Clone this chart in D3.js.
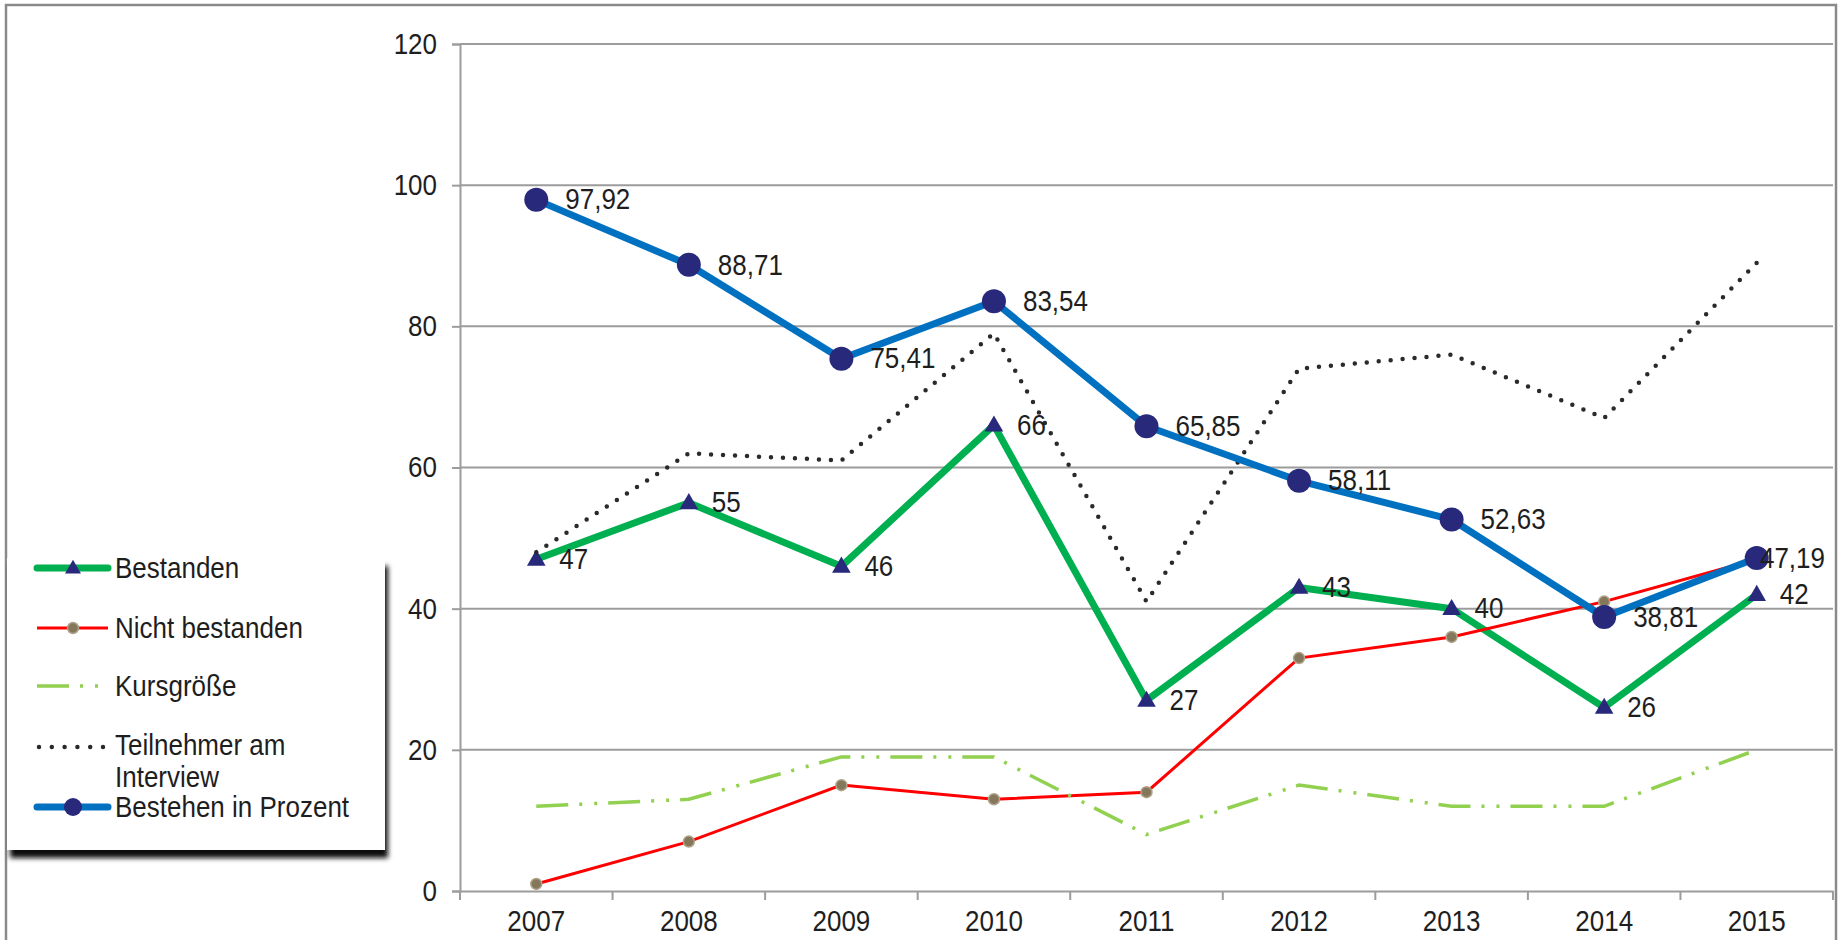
<!DOCTYPE html>
<html>
<head>
<meta charset="utf-8">
<script src="https://cdn.jsdelivr.net/npm/d3@7"></script>
<style>
  body { margin: 0; background: #fff; }
  svg { display: block; font-family: "Liberation Sans", Arial, sans-serif; }
  svg text { transform-box: fill-box; transform-origin: center; transform: scaleY(1.12); }
</style>
</head>
<body>
<div id="chart"></div>
<script>
// data
const years = ['2007', '2008', '2009', '2010', '2011', '2012', '2013', '2014', '2015'];
const bestanden = [47, 55, 46, 66, 27, 43, 40, 26, 42];
const nichtBestanden = [1, 7, 15, 13, 14, 33, 36, 41, 47];
const kursgroesse = [12, 13, 19, 19, 8, 15, 12, 12, 20];
const teilnehmer = [48, 62, 61, 79, 41, 74, 76, 67, 89];
const bestehenProzent = [97.92, 88.71, 75.41, 83.54, 65.85, 58.11, 52.63, 38.81, 47.19];
const yTicks = [0, 20, 40, 60, 80, 100, 120];
const legendNames = ['Bestanden', 'Nicht bestanden', 'Kursgröße', 'Teilnehmer am|Interview', 'Bestehen in Prozent'];

const W = 1841, H = 940;
const plot = {left: 460, right: 1833, top: 44, bottom: 891};

const svg = d3.select("#chart").append("svg")
    .attr("width", W)
    .attr("height", H);

// shadow filter for the legend
const defs = svg.append("defs");
defs.append("filter").attr("id", "blur")
    .attr("x", "-5%").attr("y", "-5%").attr("width", "110%").attr("height", "120%")
    .append("feGaussianBlur").attr("stdDeviation", 2.5);

// outer frame
svg.append("rect")
    .attr("x", 6).attr("y", 5)
    .attr("width", 1830).attr("height", 960)
    .attr("fill", "none")
    .attr("stroke", "#8a8a8a")
    .attr("stroke-width", 2.5);

const x = d3.scaleBand()
    .domain(years)
    .range([plot.left, plot.right]);

const y = d3.scaleLinear()
    .domain([0, 120])
    .range([plot.bottom, plot.top]);

const cx = (d, i) => x(years[i]) + x.bandwidth() / 2;

// gridlines
svg.append("g")
    .selectAll("line")
    .data(yTicks.filter(t => t > 0))
    .join("line")
    .attr("x1", plot.left).attr("x2", plot.right)
    .attr("y1", d => y(d)).attr("y2", d => y(d))
    .attr("stroke", "#9c9c9c")
    .attr("stroke-width", 2);

// y axis
const yAxis = svg.append("g")
    .attr("transform", `translate(${plot.left},0)`)
    .call(d3.axisLeft(y).tickValues(yTicks).tickSize(8).tickPadding(15));
yAxis.selectAll("line, path").attr("stroke", "#9c9c9c").attr("stroke-width", 2);
yAxis.selectAll("text").attr("font-size", 26).attr("fill", "#1e1e1e")
    .attr("font-family", "Liberation Sans, Arial, sans-serif");

// x axis: labels at band centres, ticks at band edges
const xAxis = svg.append("g")
    .attr("transform", `translate(0,${plot.bottom})`)
    .call(d3.axisBottom(x).tickSize(0).tickPadding(20));
xAxis.select("path").attr("stroke", "#9c9c9c").attr("stroke-width", 2);
xAxis.selectAll("text").attr("font-size", 26).attr("fill", "#1e1e1e")
    .attr("font-family", "Liberation Sans, Arial, sans-serif");
xAxis.selectAll(".edge")
    .data(years.map(d => x(d)).concat([plot.right]))
    .join("line")
    .attr("class", "edge")
    .attr("x1", d => d).attr("x2", d => d)
    .attr("y1", 0).attr("y2", 9)
    .attr("stroke", "#9c9c9c")
    .attr("stroke-width", 2);

const line = d3.line()
    .x(cx)
    .y(d => y(d));

// Bestanden
svg.append("path")
    .datum(bestanden)
    .attr("fill", "none")
    .attr("stroke", "#00b050")
    .attr("stroke-width", 7)
    .attr("stroke-linejoin", "round")
    .attr("d", line);
svg.append("g").selectAll("path")
    .data(bestanden)
    .join("path")
    .attr("transform", (d, i) => `translate(${cx(d, i)},${y(d) + 1})`)
    .attr("d", d3.symbol(d3.symbolTriangle, 150))
    .attr("fill", "#29297b");

// Nicht bestanden
svg.append("path")
    .datum(nichtBestanden)
    .attr("fill", "none")
    .attr("stroke", "#ff0000")
    .attr("stroke-width", 3)
    .attr("d", line);
svg.append("g").selectAll("circle")
    .data(nichtBestanden)
    .join("circle")
    .attr("cx", cx)
    .attr("cy", d => y(d))
    .attr("r", 5.5)
    .attr("fill", "#85775a")
    .attr("stroke", "#b0a58c")
    .attr("stroke-width", 1.5);

// Kursgröße
svg.append("path")
    .datum(kursgroesse)
    .attr("fill", "none")
    .attr("stroke", "#92d050")
    .attr("stroke-width", 3.5)
    .attr("stroke-dasharray", "32,11,3,12,3,11")
    .attr("d", line);

// Teilnehmer am Interview
svg.append("path")
    .datum(teilnehmer)
    .attr("fill", "none")
    .attr("stroke", "#2a2a2a")
    .attr("stroke-width", 4.5)
    .attr("stroke-linecap", "round")
    .attr("stroke-dasharray", "0,12")
    .attr("d", line);

// Bestehen in Prozent
svg.append("path")
    .datum(bestehenProzent)
    .attr("fill", "none")
    .attr("stroke", "#0070c0")
    .attr("stroke-width", 7)
    .attr("stroke-linejoin", "round")
    .attr("d", line);
svg.append("g").selectAll("circle")
    .data(bestehenProzent)
    .join("circle")
    .attr("cx", cx)
    .attr("cy", d => y(d))
    .attr("r", 12)
    .attr("fill", "#29297b");

// data labels
function addLabels(values, fmt, offset) {
    svg.append("g").selectAll("text")
        .data(values)
        .join("text")
        .attr("x", (d, i) => cx(d, i) + offset)
        .attr("y", d => y(d))
        .attr("dy", "0.33em")
        .attr("font-size", 26)
        .attr("fill", "#1e1e1e")
        .text(fmt)
        .each(function(d, i) {
            const w = this.getComputedTextLength();
            const lim = plot.right - 8;
            if (cx(d, i) + offset + w > lim) d3.select(this).attr("x", lim - w);
        });
}
addLabels(bestanden, d => d, 23);
addLabels(bestehenProzent, d => d.toFixed(2).replace('.', ','), 29);

// legend
const lg = svg.append("g");
lg.append("rect")
    .attr("x", 10).attr("y", 566)
    .attr("width", 378).attr("height", 292)
    .attr("fill", "#111")
    .attr("filter", "url(#blur)");
lg.append("rect")
    .attr("x", 7).attr("y", 558)
    .attr("width", 378).attr("height", 292)
    .attr("fill", "#fff");

const rowY = [568, 628, 686, 747, 807];
const lx0 = 37, lx1 = 108, lmid = 73;

// Bestanden
lg.append("line").attr("x1", lx0).attr("x2", lx1).attr("y1", rowY[0]).attr("y2", rowY[0])
    .attr("stroke", "#00b050").attr("stroke-width", 7).attr("stroke-linecap", "round");
lg.append("path").attr("transform", `translate(${lmid},${rowY[0] + 1})`)
    .attr("d", d3.symbol(d3.symbolTriangle, 110)).attr("fill", "#29297b");
// Nicht bestanden
lg.append("line").attr("x1", lx0).attr("x2", lx1).attr("y1", rowY[1]).attr("y2", rowY[1])
    .attr("stroke", "#ff0000").attr("stroke-width", 3);
lg.append("circle").attr("cx", lmid).attr("cy", rowY[1]).attr("r", 5.5)
    .attr("fill", "#85775a").attr("stroke", "#b0a58c").attr("stroke-width", 1.5);
// Kursgröße
lg.append("line").attr("x1", lx0).attr("x2", lx1).attr("y1", rowY[2]).attr("y2", rowY[2])
    .attr("stroke", "#92d050").attr("stroke-width", 3.5)
    .attr("stroke-dasharray", "32,11,3,12,3,11");
// Teilnehmer
lg.append("line").attr("x1", 39).attr("x2", 104).attr("y1", rowY[3]).attr("y2", rowY[3])
    .attr("stroke", "#2a2a2a").attr("stroke-width", 4.5)
    .attr("stroke-linecap", "round").attr("stroke-dasharray", "0,12.8");
// Bestehen
lg.append("line").attr("x1", lx0).attr("x2", lx1).attr("y1", rowY[4]).attr("y2", rowY[4])
    .attr("stroke", "#0070c0").attr("stroke-width", 7).attr("stroke-linecap", "round");
lg.append("circle").attr("cx", lmid).attr("cy", rowY[4]).attr("r", 9).attr("fill", "#29297b");

lg.selectAll("text.name")
    .data(legendNames)
    .join("text")
    .attr("class", "name")
    .attr("x", 115)
    .attr("y", (d, i) => rowY[i])
    .attr("font-size", 26)
    .attr("fill", "#1e1e1e")
    .each(function(d) {
        const parts = d.split('|');
        d3.select(this).selectAll("tspan")
            .data(parts)
            .join("tspan")
            .attr("x", 115)
            .attr("dy", (p, j) => j === 0 ? "0.35em" : "1.08em")
            .text(p => p);
    });
</script>
</body>
</html>
